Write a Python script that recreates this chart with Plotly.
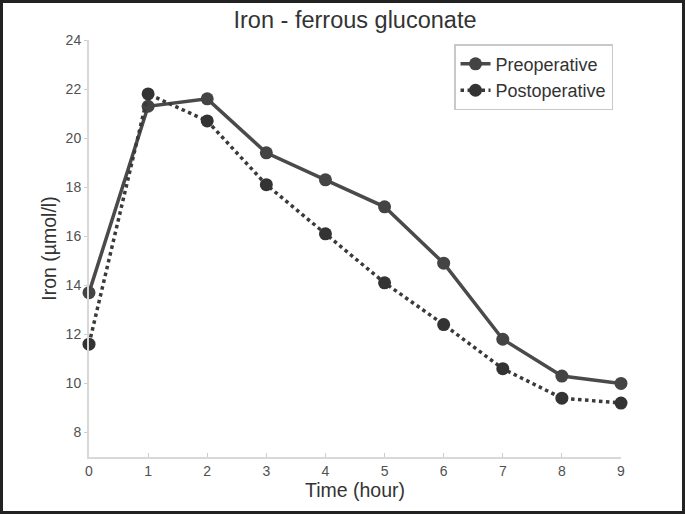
import plotly.graph_objects as go

time_h = [0, 1, 2, 3, 4, 5, 6, 7, 8, 9]
preoperative = [13.7, 21.3, 21.6, 19.4, 18.3, 17.2, 14.9, 11.8, 10.3, 10.0]
postoperative = [11.6, 21.8, 20.7, 18.1, 16.1, 14.1, 12.4, 10.6, 9.4, 9.2]
y_ticks = [8, 10, 12, 14, 16, 18, 20, 22, 24]
x_ticks = time_h

W, H = 685, 514
L, R, T, B = 89, 64, 40, 57
pw, ph = W - L - R, H - T - B

fig = go.Figure()
fig.add_trace(go.Scatter(
    x=time_h, y=preoperative, name="Preoperative", mode="lines+markers",
    line=dict(color="#4a4a4a", width=3.5),
    marker=dict(color="#444444", size=13),
    cliponaxis=False))
fig.add_trace(go.Scatter(
    x=time_h, y=postoperative, name="Postoperative", mode="lines+markers",
    line=dict(color="#3a3a3a", width=3.5, dash="dot"),
    marker=dict(color="#333333", size=13),
    cliponaxis=False))

fig.add_shape(type="rect", xref="paper", yref="paper",
              x0=(1.5 - L) / pw, x1=(W - 1.5 - L) / pw,
              y0=-(B - 1.5) / ph,
              y1=1 + (T - 1.5) / ph,
              line=dict(color="#222222", width=3), layer="above")

fig.update_layout(
    width=W, height=H,
    margin=dict(l=L, r=R, t=T, b=B, autoexpand=False),
    paper_bgcolor="white", plot_bgcolor="white",
    font=dict(family="Liberation Sans, Arial, sans-serif", color="#333333"),
    title=dict(text="Iron - ferrous gluconate", xref="paper", x=0.5, xanchor="center",
               y=1 - 20 / H, yanchor="middle",
               font=dict(size=23.5, color="#333333")),
    showlegend=True,
    legend=dict(x=0.985, y=0.99, xanchor="right", yanchor="top",
                bordercolor="#c8c8c8", borderwidth=1.5, bgcolor="white",
                font=dict(size=18, color="#333333"),
                itemwidth=30, tracegroupgap=0),
    xaxis=dict(range=[0, 9], tickvals=x_ticks, showgrid=False, zeroline=False,
               showline=True, linecolor="#d8d8d8", linewidth=2, automargin=False,
               ticks="inside", ticklen=4, tickcolor="#cccccc",
               tickfont=dict(size=14, color="#505050"),
               title=dict(text="Time (hour)", font=dict(size=19.5, color="#333333"), standoff=4)),
    yaxis=dict(range=[7, 24], tickvals=y_ticks, showgrid=False, zeroline=False,
               showline=True, linecolor="#d8d8d8", linewidth=2, automargin=False,
               ticks="outside", ticklen=3, tickcolor="#cccccc",
               tickfont=dict(size=14, color="#505050"),
               title=dict(text="Iron (µmol/l)", font=dict(size=19.5, color="#333333"), standoff=4)),
)

fig.write_html("out.html", config={"displayModeBar": False},
               post_script="document.body.style.margin='0';document.body.style.overflow='hidden';")
